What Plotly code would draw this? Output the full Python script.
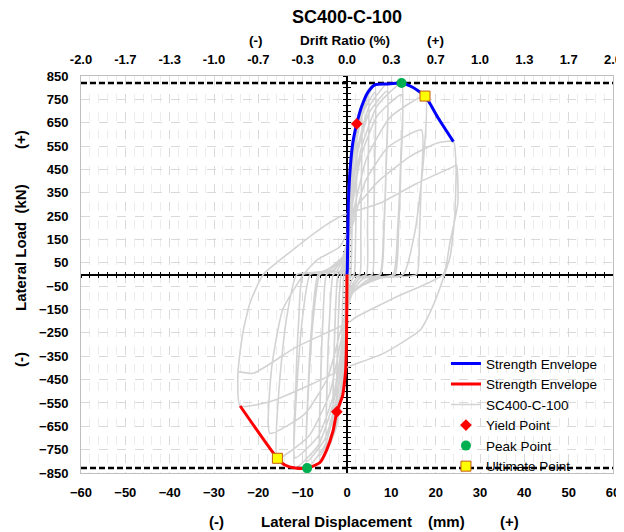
import plotly.graph_objects as go

# ---------------- data ----------------
disp_ticks = [-60, -50, -40, -30, -20, -10, 0, 10, 20, 30, 40, 50, 60]
drift_labels = ['-2.0', '-1.7', '-1.3', '-1.0', '-0.7', '-0.3', '0.0', '0.3', '0.7', '1.0', '1.3', '1.7', '2.0']
load_ticks = [-850, -750, -650, -550, -450, -350, -250, -150, -50, 50, 150, 250, 350, 450, 550, 650, 750, 850]

# hysteresis record (displacement mm, load kN), one row per cycle
hyst_disp = [0,
    0.06, 0.18, 0.39, 0.7, 0.67, 0.57, 0.4, 0.2, 0.04, -0.04, -0.13, -0.28, -0.5, -0.48, -0.39, -0.25,
    -0.13, -0.03, 0.06, 0.18, 0.39, 0.7, 0.67, 0.57, 0.4, 0.2, 0.04, -0.04, -0.13, -0.28, -0.5, -0.48, -0.39, -0.25,
    -0.13, -0.03, 0.1, 0.33, 0.72, 1.3, 1.25, 1.08, 0.8, 0.4, 0.08, -0.1, -0.3, -0.66, -1.2, -1.15, -0.98, -0.7,
    -0.35, -0.07, 0.1, 0.33, 0.72, 1.3, 1.25, 1.08, 0.8, 0.4, 0.08, -0.1, -0.3, -0.66, -1.2, -1.15, -0.98, -0.7,
    -0.35, -0.07, 0.18, 0.55, 1.21, 2.2, 2.14, 1.93, 1.6, 0.8, 0.16, -0.18, -0.58, -1.27, -2.3, -2.2, -1.85, -1.3,
    -0.65, -0.13, 0.18, 0.55, 1.21, 2.2, 2.14, 1.93, 1.6, 0.8, 0.16, -0.18, -0.58, -1.27, -2.3, -2.2, -1.85, -1.3,
    -0.65, -0.13, 0.26, 0.83, 1.82, 3.3, 3.26, 3.12, 2.9, 1.45, 0.29, -0.25, -0.78, -1.71, -3.1, -2.99, -2.61, -2.0,
    -1.0, -0.2, 0.26, 0.83, 1.82, 3.3, 3.26, 3.12, 2.9, 1.45, 0.29, -0.25, -0.78, -1.71, -3.1, -2.99, -2.61, -2.0,
    -1.0, -0.2, 0.38, 1.2, 2.64, 4.8, 4.76, 4.62, 4.4, 2.2, 0.44, -0.37, -1.15, -2.53, -4.6, -4.45, -3.93, -3.1,
    -1.55, -0.31, 0.38, 1.2, 2.64, 4.8, 4.76, 4.62, 4.4, 2.2, 0.44, -0.37, -1.15, -2.53, -4.6, -4.45, -3.93, -3.1,
    -1.55, -0.31, 0.5, 1.58, 3.47, 6.3, 6.24, 6.03, 5.7, 2.85, 0.57, -0.49, -1.53, -3.36, -6.1, -5.95, -5.43, -4.6,
    -2.3, -0.46, 0.5, 1.58, 3.47, 6.3, 6.24, 6.03, 5.7, 2.85, 0.57, -0.49, -1.53, -3.36, -6.1, -5.95, -5.43, -4.6,
    -2.3, -0.46, 0.72, 2.25, 4.95, 9.0, 8.84, 8.28, 7.4, 3.7, 0.74, -0.72, -2.25, -4.95, -9.0, -8.71, -7.7, -6.1,
    -3.05, -0.61, 0.72, 2.25, 4.95, 9.0, 8.86, 8.37, 7.6, 3.8, 0.76, -0.72, -2.25, -4.95, -9.0, -8.75, -7.88, -6.5,
    -3.25, -0.65, 0.98, 3.08, 6.77, 12.3, 12.11, 11.45, 10.4, 5.2, 1.04, -0.94, -2.93, -6.44, -11.7, -11.36, -10.17, -8.3,
    -4.15, -0.83, 0.98, 3.08, 6.77, 12.3, 12.15, 11.63, 10.8, 5.4, 1.08, -0.94, -2.93, -6.44, -11.7, -11.52, -10.89, -9.9,
    -4.95, -0.99, 1.41, 4.4, 9.68, 17.6, 17.11, 15.4, 12.7, 6.35, 1.27, -1.26, -3.93, -8.64, -15.7, -15.26, -13.72, -11.3,
    -5.65, -1.13, 1.34, 4.2, 9.24, 16.8, 16.69, 16.3, 15.7, 7.85, 1.57, -1.39, -4.35, -9.57, -17.4, -17.0, -14.5, -9.8,
    -6.8, -1.6, 0.5, 2.2, 7.4, 14.2, 20.2, 24.0, 24.6, 24.3, 23.3, 22.0, 19.5, 16.5, 8.0, 0.3, -8.0, -17.4, -24.1,
    -24.6, -23.5, -21.9, -18.9,
    -11.3, -5.3, -0.8, 7.4, 15.7, 24.0, 24.7, 25.0, 23.2, 21.7, 11.2, 2.2, 0.0, -11.3, -21.1, -24.5]
hyst_load = [0,
    158, 293, 396, 450, 270, 112, 0, -8, -40, -140, -260, -352, -400, -240, -100, 0,
    9, 43, 151, 280, 378, 430, 258, 108, 0, -8, -39, -137, -254, -343, -390, -234, -98, 0,
    11, 56, 196, 364, 493, 560, 336, 140, 0, -10, -48, -168, -312, -422, -480, -288, -120, 0,
    11, 54, 189, 351, 475, 540, 324, 135, 0, -9, -47, -163, -302, -409, -465, -279, -116, 0,
    13, 65, 226, 419, 568, 645, 387, 161, 0, -12, -59, -207, -384, -519, -590, -354, -148, 0,
    12, 62, 215, 400, 541, 615, 369, 154, 0, -11, -57, -198, -367, -497, -565, -339, -141, 0,
    14, 72, 252, 468, 634, 720, 432, 180, 0, -13, -67, -233, -433, -586, -666, -400, -167, 0,
    14, 69, 242, 449, 607, 690, 414, 173, 0, -13, -64, -224, -416, -563, -640, -384, -160, 0,
    16, 78, 274, 509, 689, 783, 470, 196, 0, -15, -75, -263, -489, -662, -752, -451, -188, 0,
    15, 75, 263, 488, 660, 750, 450, 188, 0, -15, -73, -254, -471, -638, -725, -435, -181, 0,
    16, 81, 284, 528, 715, 812, 487, 203, 0, -16, -80, -280, -521, -705, -801, -481, -200, 0,
    16, 78, 273, 507, 686, 780, 468, 195, 0, -16, -78, -271, -504, -682, -775, -465, -194, 0,
    16, 82, 286, 530, 718, 816, 490, 204, 0, -17, -83, -290, -539, -730, -829, -497, -207, 0,
    16, 79, 275, 510, 691, 785, 471, 196, 0, -16, -80, -280, -520, -704, -800, -480, -200, 0,
    16, 82, 287, 532, 721, 819, 491, 205, 0, -17, -83, -290, -539, -730, -829, -497, -207, 0,
    15, 77, 270, 501, 678, 770, 462, 193, 0, -16, -79, -275, -510, -691, -785, -471, -196, 0,
    15, 76, 267, 497, 672, 764, 458, 191, 0, -16, -79, -275, -512, -693, -787, -472, -197, 0,
    12, 62, 217, 402, 545, 619, 371, 155, 0, -14, -68, -238, -442, -598, -680, -400, -150, 0,
    62, 119, 200, 290, 405, 505, 562, 569, 450, 250, 80, 0, -130, -238, -340, -395, -470, -545, -563,
    -420, -250, -123, 0,
    119, 205, 255, 305, 390, 462, 469, 306, 135, 0, -95, -181, -209, -309, -423, -416]

env_pos_disp = [0, 0.07, 0.3, 0.7, 1.3, 2.2, 3.3, 4.8, 6.3, 9.0, 12.3, 14.6, 17.6, 20.6, 24.0]
env_pos_load = [0, 19, 305, 448, 562, 645, 719, 783, 812, 816, 820, 804, 764, 669, 569]
env_neg_disp = [0, -0.1, -0.3, -0.5, -1.0, -2.3, -3.1, -4.6, -6.1, -9.0, -11.7, -14.0, -15.7, -24.1]
env_neg_load = [0, -266, -409, -450, -520, -588, -666, -752, -805, -829, -829, -816, -787, -563]

yield_disp = [2.2, -2.3]
yield_load = [645, -588]
peak_disp = [12.3, -9.0]
peak_load = [820, -829]
ult_disp = [17.6, -15.7]
ult_load = [764, -787]

FONT = "Arial, Liberation Sans, sans-serif"

fig = go.Figure()

fig.add_trace(go.Scatter(x=hyst_disp, y=hyst_load, mode='lines', name='SC400-C-100',
                         line=dict(color='#d3d3d3', width=1.6, shape='spline', smoothing=0.5),
                         legendrank=3))
for pl in peak_load:
    fig.add_trace(go.Scatter(x=[disp_ticks[0], disp_ticks[-1]], y=[pl, pl], mode='lines',
                             line=dict(color='black', width=2.5, dash='6px,3px'),
                             showlegend=False, hoverinfo='skip'))
fig.add_trace(go.Scatter(x=env_pos_disp, y=env_pos_load, mode='lines', name='Strength Envelope',
                         line=dict(color='#0000ff', width=3, shape='spline', smoothing=0.6),
                         legendrank=1))
fig.add_trace(go.Scatter(x=env_neg_disp, y=env_neg_load, mode='lines', name='Strength Envelope',
                         line=dict(color='#ff0000', width=3, shape='spline', smoothing=0.6),
                         legendrank=2))
fig.add_trace(go.Scatter(x=yield_disp, y=yield_load, mode='markers', name='Yield Point',
                         marker=dict(symbol='diamond', color='#ff0000', size=9),
                         legendrank=4))
fig.add_trace(go.Scatter(x=peak_disp, y=peak_load, mode='markers', name='Peak Point',
                         marker=dict(symbol='circle', color='#00b050', size=10),
                         legendrank=5))
fig.add_trace(go.Scatter(x=ult_disp, y=ult_load, mode='markers', name='Ultimate Point',
                         marker=dict(symbol='square', color='#ffff00', size=10,
                                     line=dict(color='#c55a11', width=1)),
                         legendrank=6))

# dummy traces so the overlay axes are drawn
for xa, ya in [('x2', 'y'), ('x3', 'y'), ('x4', 'y'), ('x', 'y2'), ('x', 'y3')]:
    fig.add_trace(go.Scatter(x=[None], y=[None], xaxis=xa, yaxis=ya, showlegend=False,
                             hoverinfo='skip'))

grid_major = '#d9d9d9'
grid_minor = '#ececec'
tickfont = dict(family=FONT, size=13, color='black', weight='bold')
rng_x = [disp_ticks[0], disp_ticks[-1]]
rng_y = [load_ticks[0], load_ticks[-1]]

# the page body adds an 8px offset; the figure is sized so the plot lands at
# screen x 81..613, y 76..473
OFF = 8
W, H = 624 - OFF, 532 - OFF
L, R, T, B = 81 - OFF, 11, 76 - OFF, 532 - 473
PW, PH = W - L - R, H - T - B

fig.update_layout(
    width=W, height=H,
    margin=dict(l=L, r=R, t=T, b=B, autoexpand=False),
    paper_bgcolor='white', plot_bgcolor='white',
    font=dict(family=FONT, color='black'),
    title=dict(text='<b>SC400-C-100</b>', x=0.5, xref='paper', xanchor='center',
               y=1 - (17 - OFF) / H, yref='container', yanchor='middle', pad=dict(t=0, b=0),
               font=dict(size=18, family=FONT, color='black')),
    xaxis=dict(range=rng_x, tickvals=disp_ticks, ticks='', tickfont=tickfont, automargin=False,
               ticklabelstandoff=7,
               showgrid=True, gridcolor=grid_major, griddash='dash', gridwidth=1,
               minor=dict(dtick=2, tick0=0, showgrid=True, gridcolor=grid_minor,
                          griddash='dash'),
               showline=True, linecolor='#bfbfbf', mirror=True, zeroline=False),
    xaxis2=dict(range=rng_x, overlaying='x', side='top', anchor='y', tickvals=disp_ticks,
                ticktext=drift_labels, tickfont=tickfont, showgrid=False, zeroline=False,
                ticks='', automargin=False, ticklabelstandoff=8),
    xaxis3=dict(range=rng_x, overlaying='x', anchor='free', position=0.5, showline=True,
                linecolor='black', linewidth=1.5, ticks='outside', ticklen=3, tickwidth=1,
                tickcolor='black', dtick=2, tick0=0, showticklabels=False, showgrid=False,
                zeroline=False, layer='below traces', automargin=False),
    xaxis4=dict(range=rng_x, overlaying='x', anchor='free', position=0.5, showline=False,
                ticks='inside', ticklen=3, tickwidth=1, tickcolor='black', dtick=2, tick0=0,
                showticklabels=False, showgrid=False, zeroline=False, layer='below traces',
                automargin=False),
    yaxis=dict(range=rng_y, tickvals=load_ticks, tickfont=tickfont, ticks='', automargin=False,
               ticklabelstandoff=9,
               showgrid=True, gridcolor=grid_major, griddash='dash', gridwidth=1,
               showline=True, linecolor='#bfbfbf', mirror=True, zeroline=False),
    yaxis2=dict(range=rng_y, overlaying='y', anchor='free', position=0.5, showline=True,
                linecolor='black', linewidth=1.5, ticks='outside', ticklen=3, tickwidth=1,
                tickcolor='black', dtick=25, tick0=0, showticklabels=False, showgrid=False,
                zeroline=False, layer='below traces', automargin=False),
    yaxis3=dict(range=rng_y, overlaying='y', anchor='free', position=0.5, showline=False,
                ticks='inside', ticklen=3, tickwidth=1, tickcolor='black', dtick=25, tick0=0,
                showticklabels=False, showgrid=False, zeroline=False, layer='below traces',
                automargin=False),
    legend=dict(x=0.686, y=-0.023, xanchor='left', yanchor='bottom', bgcolor='rgba(0,0,0,0)',
                font=dict(family=FONT, size=13.5, color='black'), tracegroupgap=0,
                itemwidth=30),
    showlegend=True,
)


def pxx(sx):
    # screen x -> plot paper fraction
    return (sx - OFF - L) / PW


def pxy(sy):
    # screen y -> plot paper fraction
    return (H - B - (sy - OFF)) / PH


NB = '\u00a0'
ann = [
    ('<b>(-)</b>', 256, 41, 0, 13.5),
    ('<b>Drift Ratio (%)</b>', 345, 41, 0, 13.5),
    ('<b>(+)</b>', 435, 41, 0, 13.5),
    ('<b>(-)</b>', 216, 521, 0, 15),
    ('<b>Lateral Displacement</b>', 336, 521, 0, 15),
    ('<b>(mm)</b>', 446, 521, 0, 15),
    ('<b>(+)</b>', 509, 521, 0, 15),
    ('<b>(+)</b>', 20, 140, -90, 15),
    ('<b>Lateral Load' + NB + NB + '(kN)</b>', 20, 248, -90, 15),
    ('<b>(-)</b>', 20, 360, -90, 15),
]
for text, x, y, ang, size in ann:
    fig.add_annotation(text=text, x=pxx(x), y=pxy(y), xref='paper', yref='paper',
                       xanchor='center', yanchor='middle', showarrow=False, textangle=ang,
                       font=dict(family=FONT, size=size, color='black'))

fig.write_html("out.html")
